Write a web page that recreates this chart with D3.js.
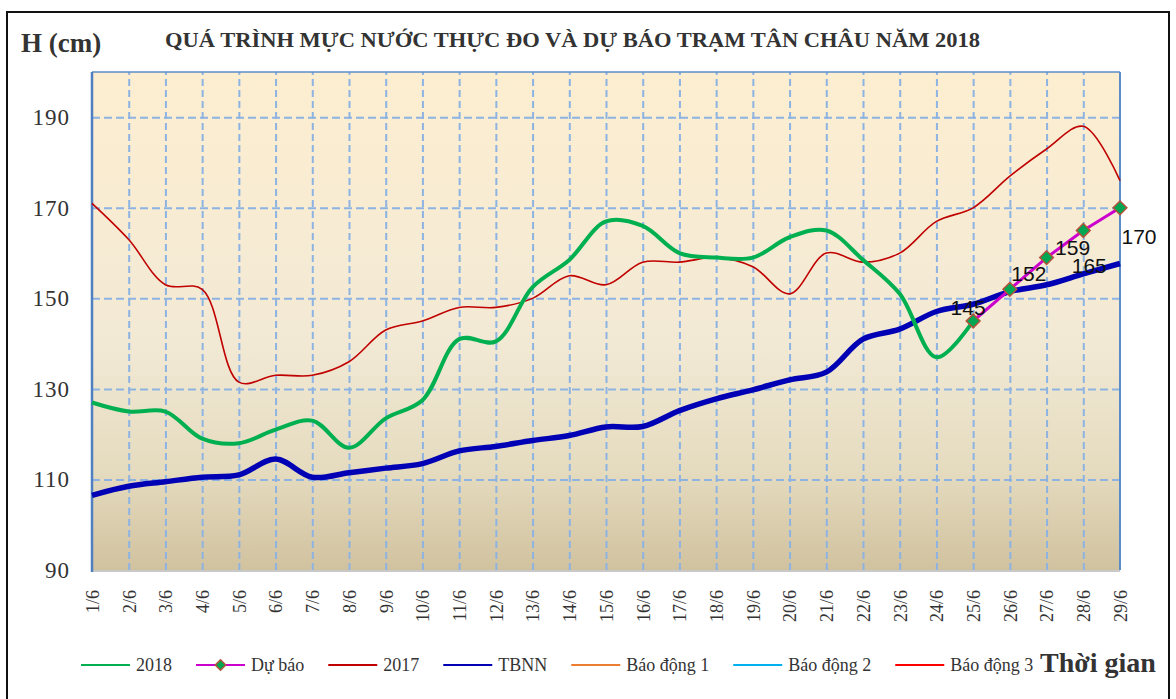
<!DOCTYPE html>
<html lang="vi">
  <head>
    <meta charset="UTF-8" />
    <title>Quá trình mực nước Tân Châu 2018</title>
    <style>
      body { margin: 0; background: #fff; }
      svg { display: block; }
      .serif { font-family: "Liberation Serif", "Times New Roman", serif; }
    </style>
  </head>
  <body>
    <svg id="chart" width="1176" height="699"></svg>
    <script src="https://d3js.org/d3.v7.min.js"></script>
    <script>
      // data (cm)
      const days = ["1/6", "2/6", "3/6", "4/6", "5/6", "6/6", "7/6", "8/6", "9/6", "10/6",
        "11/6", "12/6", "13/6", "14/6", "15/6", "16/6", "17/6", "18/6", "19/6", "20/6",
        "21/6", "22/6", "23/6", "24/6", "25/6", "26/6", "27/6", "28/6", "29/6"];
      const h2018 = [127, 125, 125, 119, 118, 121, 123, 117, 123.5, 127.5,
        141, 140.5, 152.5, 158.5, 167, 166, 160, 159, 159, 163.5,
        165, 158.5, 151, 137, 145];
      const forecastDays = ["25/6", "26/6", "27/6", "28/6", "29/6"];
      const forecast = [145, 152, 159, 165, 170];
      const h2017 = [171, 163, 153, 152, 131.5, 133, 133, 136, 143, 145,
        148, 148, 150, 155, 153, 158, 158, 159, 157, 151,
        160, 158, 160, 167, 170, 177, 183, 188, 176];
      const tbnn = [106.5, 108.5, 109.5, 110.5, 111, 114.5, 110.5, 111.5, 112.5, 113.5,
        116.3, 117.3, 118.6, 119.7, 121.6, 121.7, 125.2, 127.8, 129.8, 132,
        133.7, 141, 143.2, 147.1, 148.7, 151.5, 153, 155.4, 157.7];
      const yTicks = [90, 110, 130, 150, 170, 190];
      const legendNames = ["2018", "Dự báo", "2017", "TBNN", "Báo động 1", "Báo động 2", "Báo động 3"];

      const svg = d3.select("#chart");
      const pLeft = 92, pRight = 1120, pTop = 72, pBottom = 570;

      const x = d3.scalePoint().domain(days).range([pLeft, pRight]);
      const y = d3.scaleLinear().domain([90, 200]).range([pBottom, pTop]);

      // outer frame
      svg.append("rect")
        .attr("x", 7).attr("y", 12).attr("width", 1162).attr("height", 700)
        .attr("fill", "none").attr("stroke", "#111").attr("stroke-width", 2);

      // plot background
      const grad = svg.append("defs").append("linearGradient")
        .attr("id", "bg").attr("x1", 0).attr("y1", 0).attr("x2", 0).attr("y2", 1);
      grad.append("stop").attr("offset", "0%").attr("stop-color", "#fdeed0");
      grad.append("stop").attr("offset", "55%").attr("stop-color", "#f2e9d5");
      grad.append("stop").attr("offset", "80%").attr("stop-color", "#e5dbbf");
      grad.append("stop").attr("offset", "100%").attr("stop-color", "#d1c29f");

      svg.append("rect")
        .attr("x", pLeft).attr("y", pTop)
        .attr("width", pRight - pLeft).attr("height", pBottom - pTop)
        .attr("fill", "url(#bg)");

      // grid
      const gridColor = "#8db3e2";
      svg.append("g")
        .attr("transform", `translate(${pLeft},0)`)
        .call(d3.axisLeft(y).tickValues(yTicks.slice(1)).tickSize(-(pRight - pLeft)).tickFormat(""))
        .call(g => g.select(".domain").remove())
        .selectAll("line")
        .attr("stroke", gridColor).attr("stroke-width", 2).attr("stroke-dasharray", "8,4");

      svg.append("g")
        .attr("transform", `translate(0,${pBottom})`)
        .call(d3.axisBottom(x).tickValues(days.slice(1, -1)).tickSize(-(pBottom - pTop)).tickFormat(""))
        .call(g => g.select(".domain").remove())
        .selectAll("line")
        .attr("stroke", gridColor).attr("stroke-width", 2).attr("stroke-dasharray", "7,4");

      // plot borders
      svg.append("line").attr("x1", pLeft).attr("x2", pRight).attr("y1", pTop).attr("y2", pTop)
        .attr("stroke", "#5b8cc8").attr("stroke-width", 1.5);
      svg.append("line").attr("x1", pRight).attr("x2", pRight).attr("y1", pTop).attr("y2", pBottom)
        .attr("stroke", "#5b8cc8").attr("stroke-width", 2);
      svg.append("line").attr("x1", pLeft).attr("x2", pRight).attr("y1", pBottom + 1).attr("y2", pBottom + 1)
        .attr("stroke", "#c9c9c9").attr("stroke-width", 2);
      svg.append("line").attr("x1", pLeft).attr("x2", pLeft).attr("y1", pTop).attr("y2", pBottom + 2)
        .attr("stroke", "#4f7fc0").attr("stroke-width", 2.5);

      // axes labels
      svg.append("g")
        .attr("transform", `translate(70,0)`)
        .call(d3.axisLeft(y).tickValues(yTicks).tickSize(0).tickPadding(0))
        .call(g => g.select(".domain").remove())
        .selectAll("text")
        .attr("class", "serif")
        .attr("font-size", 23).attr("fill", "#333").attr("letter-spacing", 1);

      svg.append("g")
        .attr("transform", `translate(0,590)`)
        .call(d3.axisBottom(x).tickSize(0).tickPadding(0))
        .call(g => g.select(".domain").remove())
        .selectAll("text")
        .attr("class", "serif")
        .attr("font-size", 18).attr("fill", "#333")
        .attr("text-anchor", "end")
        .attr("transform", "rotate(-90)")
        .attr("x", 0).attr("y", 0).attr("dy", "0.35em");

      // series
      const smooth = d3.curveCatmullRom.alpha(0.5);
      const line = d3.line().x(d => x(d[0])).y(d => y(d[1]));

      svg.append("path")
        .datum(d3.zip(days, h2017))
        .attr("d", line.curve(smooth))
        .attr("fill", "none").attr("stroke", "#c00000").attr("stroke-width", 1.6);

      svg.append("path")
        .datum(d3.zip(days, tbnn))
        .attr("d", line.curve(smooth))
        .attr("fill", "none").attr("stroke", "#0000b4").attr("stroke-width", 5.5);

      svg.append("path")
        .datum(d3.zip(days.slice(0, h2018.length), h2018))
        .attr("d", line.curve(smooth))
        .attr("fill", "none").attr("stroke", "#00b050").attr("stroke-width", 4);

      const fc = d3.zip(forecastDays, forecast);
      svg.append("path")
        .datum(fc)
        .attr("d", line.curve(d3.curveLinear))
        .attr("fill", "none").attr("stroke", "#cc00cc").attr("stroke-width", 3);

      const diamond = d3.symbol().type(d3.symbolDiamond2).size(120);
      svg.append("g").selectAll("path")
        .data(fc)
        .join("path")
        .attr("d", diamond)
        .attr("transform", d => `translate(${x(d[0])},${y(d[1])})`)
        .attr("fill", "#00a651").attr("stroke", "#b5523b").attr("stroke-width", 1.5);

      // data label placement around each marker
      const labelShift = [[-5, -6], [19, -8], [26, -3], [6, 43], [19, 36]];
      svg.append("g").selectAll("text")
        .data(fc)
        .join("text")
        .attr("x", (d, i) => x(d[0]) + labelShift[i][0])
        .attr("y", (d, i) => y(d[1]) + labelShift[i][1])
        .attr("text-anchor", "middle")
        .attr("font-family", "Liberation Sans, Arial, sans-serif")
        .attr("font-size", 21).attr("fill", "#111")
        .text(d => d[1]);

      // titles
      svg.append("text").attr("class", "serif")
        .attr("x", 21).attr("y", 52)
        .attr("font-size", 27).attr("font-weight", "bold").attr("fill", "#333")
        .text("H (cm)");

      svg.append("text").attr("class", "serif")
        .attr("x", 165).attr("y", 47)
        .attr("font-size", 20).attr("font-weight", "bold").attr("fill", "#333")
        .attr("textLength", 815).attr("lengthAdjust", "spacingAndGlyphs")
        .text("QUÁ TRÌNH MỰC NƯỚC THỰC ĐO VÀ DỰ BÁO TRẠM TÂN CHÂU NĂM 2018");

      // legend
      const legendColors = ["#00b050", "#cc00cc", "#c00000", "#0000b4", "#ed7d31", "#00b0f0", "#ff0000"];
      const legend = svg.append("g").attr("transform", "translate(0,665)");
      let lx = 81;
      legendNames.forEach((name, i) => {
        const item = legend.append("g").attr("transform", `translate(${lx},0)`);
        item.append("line").attr("x1", 0).attr("x2", 49).attr("y1", 0).attr("y2", 0)
          .attr("stroke", legendColors[i]).attr("stroke-width", 2);
        if (i === 1) {
          item.append("path").attr("d", d3.symbol().type(d3.symbolDiamond2).size(70))
            .attr("transform", "translate(24.5,0)")
            .attr("fill", "#00a651").attr("stroke", "#b5523b").attr("stroke-width", 1.5);
        }
        const t = item.append("text").attr("class", "serif")
          .attr("x", 55).attr("y", 0).attr("dy", "0.35em")
          .attr("font-size", 18).attr("fill", "#333")
          .text(name);
        lx += 55 + t.node().getComputedTextLength() + 24;
      });

      svg.append("text").attr("class", "serif")
        .attr("x", 1040).attr("y", 672)
        .attr("font-size", 28).attr("font-weight", "bold").attr("fill", "#333")
        .text("Thời gian");
    </script>
  </body>
</html>
